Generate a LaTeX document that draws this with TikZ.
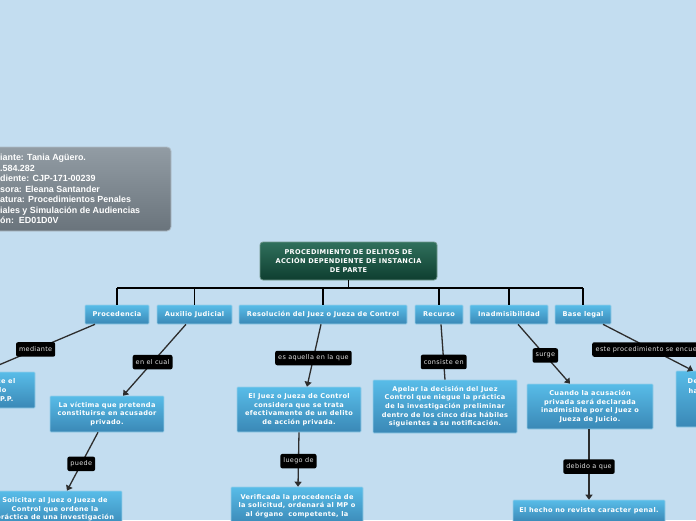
\documentclass[tikz,border=0pt]{standalone}
\usepackage{fontspec}
\newfontfamily\dvs[LetterSpace=5]{DejaVu Sans}
\newfontfamily\lsans{Liberation Sans}
\usetikzlibrary{arrows.meta}
\definecolor{bgc}{RGB}{195,221,240}
\definecolor{topA}{RGB}{88,188,232}
\definecolor{topB}{RGB}{58,136,182}
\definecolor{topBorder}{RGB}{150,205,232}
\definecolor{rootA}{RGB}{48,112,92}
\definecolor{rootB}{RGB}{14,62,48}
\definecolor{rootBorder}{RGB}{110,150,138}
\definecolor{infoA}{RGB}{146,156,164}
\definecolor{infoB}{RGB}{106,116,124}
\definecolor{infoBorder}{RGB}{175,188,198}
\definecolor{edgec}{RGB}{45,45,45}
\newcommand\nodefnt{\dvs\bfseries\fontsize{6.6}{8.6}\selectfont}
\newcommand\lblfnt{\dvs\fontsize{6.5}{7}\selectfont}
\tikzset{
  topic/.style={draw=topBorder, line width=0.6pt, top color=topA, bottom color=topB,
    text=white, font=\nodefnt, align=center, inner sep=0pt, rounded corners=0.8pt},
  rootbox/.style={draw=rootBorder, line width=0.8pt, top color=rootA, bottom color=rootB,
    text=white, font=\nodefnt, align=center, inner sep=0pt, rounded corners=3pt},
  lbl/.style={fill=black, rounded corners=2pt, text=white!88!black, font=\lblfnt,
    inner xsep=3pt, inner ysep=0pt, minimum height=14.5pt},
  treeline/.style={draw=black, line width=1.6pt},
  conn/.style={draw=edgec, line width=1.3pt},
  arr/.style={conn, -{Triangle[width=7pt,length=5pt]}},
  frag/.style={text=white, font=\nodefnt, inner sep=0pt}
}
\begin{document}
\begin{tikzpicture}[x=1pt,y=-1pt]
\useasboundingbox (0,0) rectangle (696,520);
\fill[bgc] (0,0) rectangle (696,520);
\begin{scope}
\clip (0,0) rectangle (696,520);

% info box
\node[draw=infoBorder, line width=0.8pt, top color=infoA, bottom color=infoB,
  rounded corners=4pt, minimum width=200pt, minimum height=84pt, inner sep=0pt]
  (info) at (71,189) {};
\node[text=white, font=\lsans\bfseries\fontsize{8.9}{10.45}\selectfont, align=left,
  inner sep=0pt, anchor=west] (infotext) at (0,189)
  {iante: Tania Agüero.\\.584.282\\diente: CJP-171-00239\\sora: Eleana Santander\\atura: Procedimientos Penales\\iales y Simulación de Audiencias\\ón:\ \ ED01D0V};

% root
\node[rootbox, minimum width=177pt, minimum height=38pt] (root) at (348.5,261)
  {PROCEDIMIENTO DE DELITOS DE\\ACCIÓN DEPENDIENTE DE INSTANCIA\\DE PARTE};

% level 1
\node[topic, minimum width=64pt, minimum height=19pt] (proc) at (117,314.5) {Procedencia};
\node[topic, minimum width=75pt, minimum height=19pt] (aux) at (194.5,314.5) {Auxilio Judicial};
\node[topic, minimum width=168pt, minimum height=19pt] (res) at (323,314.5) {Resolución del Juez o Jueza de Control};
\node[topic, minimum width=48pt, minimum height=19pt] (rec) at (439,314.5) {Recurso};
\node[topic, minimum width=78pt, minimum height=19pt] (inad) at (509,314.5) {Inadmisibilidad};
\node[topic, minimum width=56pt, minimum height=19pt] (base) at (583,314.5) {Base legal};

% tree lines
\coordinate (bus) at (348.5,288);
\draw[treeline] (root.south) -- (bus);
\draw[treeline] (proc.north |- bus) -- (base.north |- bus);
\foreach \n in {proc,aux,res,rec,inad,base}{
  \draw[treeline] (\n.north |- bus) -- (\n.north);
}

% level 2 nodes
\node[topic, minimum width=110pt, minimum height=36pt] (left) at (-20,390) {};
\node[frag, anchor=east] (leftA) at (15.5,381) {ce el};
\node[frag, anchor=east] (leftB) at (6.5,390) {lo};
\node[frag, anchor=east] (leftC) at (13.5,399) {P.P.};

\node[topic, minimum width=114pt, minimum height=36pt] (victim) at (107,414)
  {La víctima que pretenda\\constituirse en acusador\\privado.};
\node[topic, minimum width=134pt, minimum height=37pt] (solic) at (55,509.5)
  {Solicitar al Juez o Jueza de\\Control que ordene la\\práctica de una investigación};

\node[topic, minimum width=124pt, minimum height=45pt] (juez) at (299,409.5)
  {El Juez o Jueza de Control\\considera que se trata\\efectivamente de un delito\\de acción privada.};
\node[topic, minimum width=132pt, minimum height=38pt] (verif) at (297,506)
  {Verificada la procedencia de\\la solicitud, ordenará al MP o\\al órgano\ \ competente, la};

\node[topic, minimum width=144pt, minimum height=53pt] (apel) at (445,406.5)
  {Apelar la decisión del Juez\\Control que niegue la práctica\\de la investigación preliminar\\dentro de los cinco días hábiles\\siguientes a su notificación.};

\node[topic, minimum width=126pt, minimum height=45pt] (cuando) at (590,406.5)
  {Cuando la acusación\\privada será declarada\\inadmisible por el Juez o\\Jueza de Juicio.};
\node[topic, minimum width=152pt, minimum height=22pt] (hecho) at (589,511)
  {El hecho no reviste caracter penal.};

\node[topic, minimum width=108pt, minimum height=56pt] (right) at (730,399) {};
\node[frag, anchor=west] (rightA) at (687.5,381.5) {De};
\node[frag, anchor=west] (rightB) at (688.5,391) {ha};

% connectors with labels
\draw[arr] ([xshift=-22pt]proc.south) -- ([xshift=3pt]left.north)
  node[lbl, pos=0.53] (l1) {mediante};
\draw[arr] ([xshift=-8.5pt]aux.south) -- ([xshift=16pt]victim.north)
  node[lbl, pos=0.53] (l2) {en el cual};
\draw[arr] ([xshift=-9pt]victim.south) -- ([xshift=12pt]solic.north)
  node[lbl, pos=0.54] (l3) {puede};
\draw[arr] ([xshift=-2pt]res.south) -- ([xshift=8pt]juez.north)
  node[lbl, pos=0.54] (l4) {es aquella en la que};
\draw[arr] (juez.south) -- ([xshift=1pt]verif.north)
  node[lbl, pos=0.53] (l5) {luego de};
\draw[conn] ([xshift=2pt]rec.south) -- (apel.north)
  node[lbl, pos=0.68] (l6) {consiste en};
\draw[arr] ([xshift=9pt]inad.south) -- ([xshift=-20pt]cuando.north)
  node[lbl, pos=0.525] (l7) {surge};
\draw[arr] ([xshift=-1pt]cuando.south) -- (hecho.north)
  node[lbl, pos=0.53] (l8) {debido a que};
\draw[arr] ([xshift=20pt]base.south) -- ([xshift=-37pt]right.north);
\node[lbl, anchor=west, minimum width=120pt, align=left, text width=113pt] (l9) at (592,349.5)
  {este procedimiento se encuent};
\end{scope}
\end{tikzpicture}
\end{document}
